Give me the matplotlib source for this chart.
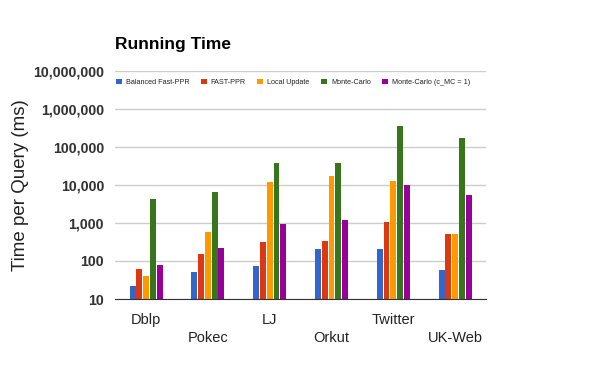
import numpy as np
import matplotlib.pyplot as plt
from matplotlib.ticker import FixedLocator, NullLocator

plt.rcParams['font.family'] = ['Liberation Sans', 'DejaVu Sans']

# Data
datasets = ["Dblp", "Pokec", "LJ", "Orkut", "Twitter", "UK-Web"]
series = ["Balanced Fast-PPR", "FAST-PPR", "Local Update", "Monte-Carlo", "Monte-Carlo (c_MC = 1)"]
balanced = [22, 52, 75, 210, 210, 59]
fastppr = [63, 156, 323, 343, 1085, 524]
local_update = [41, 592, 12200, 17600, 13000, 524]
monte_carlo = [4370, 6680, 38700, 38700, 364000, 176000]
monte_carlo_c1 = [80, 224, 960, 1220, 10200, 5570]
colors = ["#3366cc", "#dc3912", "#ff9900", "#38761d", "#990099"]

values = [balanced, fastppr, local_update, monte_carlo, monte_carlo_c1]

fig = plt.figure(figsize=(6, 3.71), dpi=100)
ax = fig.add_axes([0.192, 0.194, 0.618, 0.615])

x = np.arange(len(datasets))
step = 0.11
width = 0.097
for i, (name, vals) in enumerate(zip(series, values)):
    ax.bar(x + (i - 2) * step, vals, width, color=colors[i], label=name, zorder=3)

ax.set_yscale("log")
ax.set_ylim(10, 1e7)
ax.set_xlim(-0.5, len(datasets) - 0.5)
ticks = [10, 100, 1000, 10000, 100000, 1000000, 10000000]
ax.yaxis.set_major_locator(FixedLocator(ticks))
ax.yaxis.set_minor_locator(NullLocator())
ax.set_yticklabels([f"{t:,}" for t in ticks], fontsize=10.2, fontweight="bold", color="#333333")
ax.grid(axis="y", color="#cccccc", linewidth=1, zorder=0)

ax.set_xticks(x)
ax.set_xticklabels([d if i % 2 == 0 else "\n" + d for i, d in enumerate(datasets)],
                   fontsize=10.5, color="#222222", linespacing=1.4)
ax.tick_params(axis="x", length=0, pad=10)
ax.tick_params(axis="y", length=0, pad=8)

for s in ["top", "right", "left"]:
    ax.spines[s].set_visible(False)
ax.spines["bottom"].set_color("#333333")
ax.spines["bottom"].set_zorder(4)

ax.set_ylabel("Time per Query (ms)", fontsize=13.5, color="#222222", labelpad=3)
fig.text(0.192, 0.868, "Running Time", fontsize=12.5, fontweight="bold", ha="left", va="baseline")

leg = ax.legend(loc="upper left", bbox_to_anchor=(-0.01, 0.985), ncol=5, frameon=False,
                fontsize=5.2, handlelength=0.85, handleheight=0.85, columnspacing=1.55,
                handletextpad=0.55, borderaxespad=0.2)
for t in leg.get_texts():
    t.set_color("#222222")

fig.savefig("out.png", dpi=100)
